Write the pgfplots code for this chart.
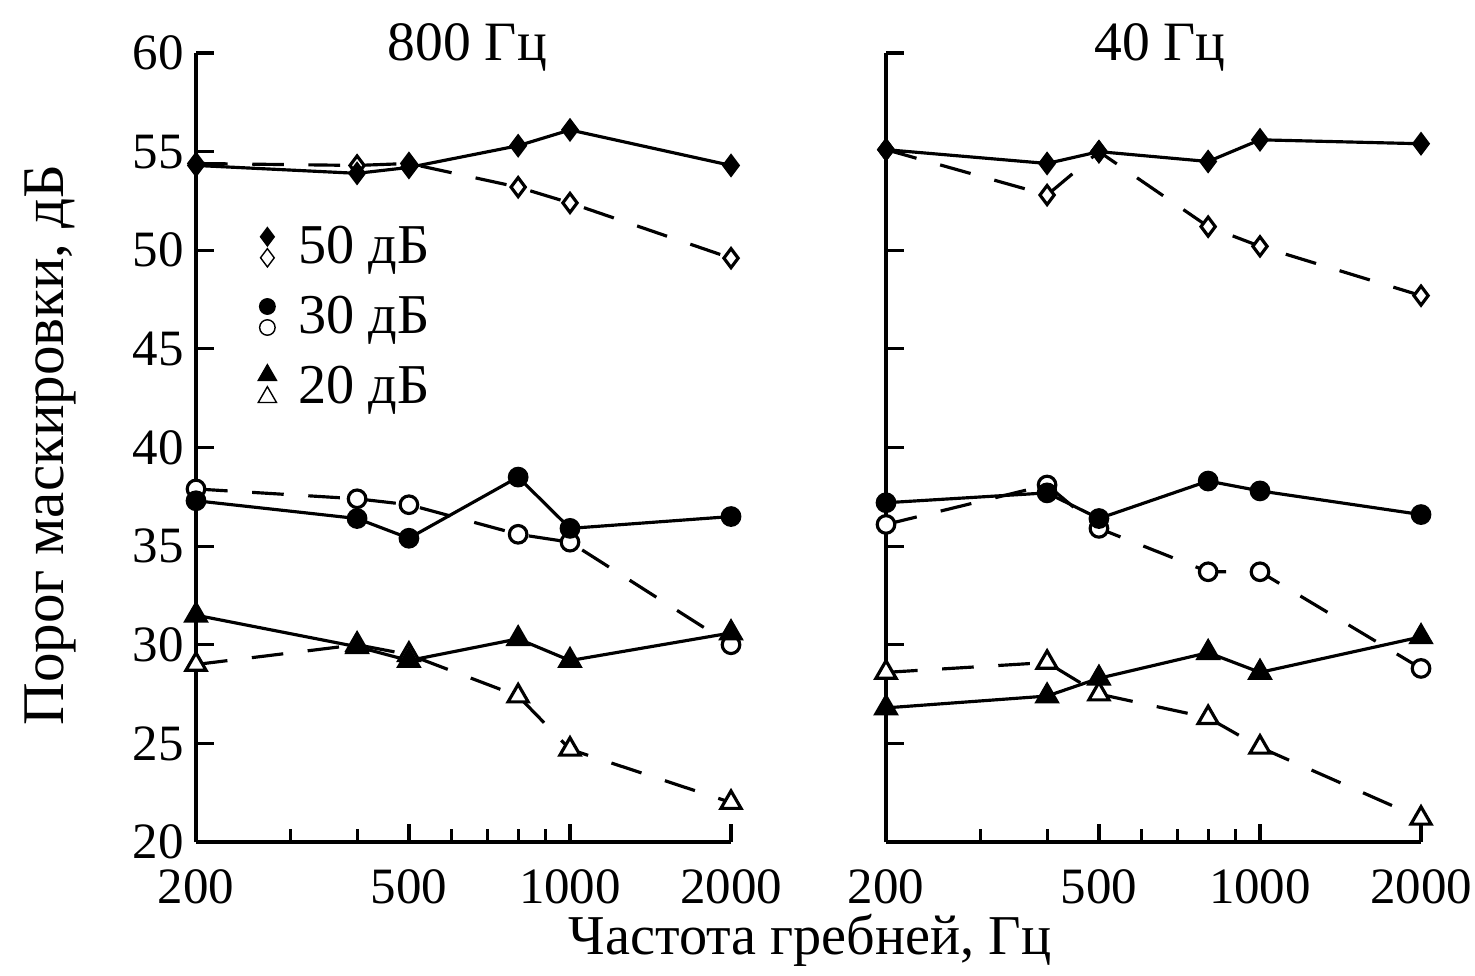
\documentclass[border=0pt]{standalone}
\usepackage{fontspec}
\setmainfont{Liberation Serif}
\usepackage{pgfplots}
\pgfplotsset{compat=1.18}

\pgfplotsset{
  sl/.style={black, line width=0.9pt, solid},
  dl/.style={black, line width=0.9pt, dash pattern=on 9pt off 7pt},
  fdm/.style={mark=diamond*, mark size=2.7pt, mark options={solid, fill=black}},
  odm/.style={mark=diamond*, mark size=2.7pt, mark options={solid, fill=white}},
  fcm/.style={mark=*, mark size=2.5pt, mark options={solid, fill=black}},
  ocm/.style={mark=*, mark size=2.5pt, mark options={solid, fill=white}},
  ftm/.style={mark=triangle*, mark size=3.3pt, mark options={solid, fill=black}},
  otm/.style={mark=triangle*, mark size=3.3pt, mark options={solid, fill=white}},
}

\begin{document}
\begin{tikzpicture}
\path[use as bounding box] (-1.96cm,-1.33cm) rectangle (12.79cm,8.42cm);

% 800 Hz
\begin{axis}[
  xmode=log, scale only axis, width=5.35cm, height=7.89cm,
  xmin=200, xmax=2000, ymin=20, ymax=60,
  axis lines=left, axis line style={-, line width=1pt},
  tick align=inside, major tick length=0.18cm, minor tick length=0.13cm,
  tick style={line width=0.9pt, black},
  xtick={200,500,1000,2000}, xticklabels={200,500,1000,2000},
  minor xtick={300,400,600,700,800,900},
  ytick={20,25,...,60},
  tick label style={font=\fontsize{14.5}{17}\selectfont},
  xticklabel style={yshift=-0.15cm},
  /pgf/number format/assume math mode=true,
  clip=false,
  title={800 Гц}, title style={at={(0.507,0.98)}, anchor=center, font=\fontsize{15.8}{18}\selectfont},
  legend style={at={(0.115,0.79)}, anchor=north west, draw=none, fill=none,
    inner sep=0pt, row sep=0.13cm, font=\fontsize{16}{19}\selectfont},
  legend cell align=left,
]
  \addlegendimage{legend image code/.code={
    \path (0.02cm,0cm) (0.33cm,0cm);
    \draw[black, fill=black] plot[mark=diamond*, mark size=2.6pt] coordinates {(0.1cm,0.11cm)};
    \draw[black, fill=white] plot[mark=diamond*, mark size=2.6pt, mark options={fill=white}] coordinates {(0.1cm,-0.1cm)};}}
  \addlegendentry{50 дБ}
  \addlegendimage{legend image code/.code={
    \path (0.02cm,0cm) (0.33cm,0cm);
    \draw[black, fill=black] plot[mark=*, mark size=2.2pt] coordinates {(0.1cm,0.11cm)};
    \draw[black, fill=white] plot[mark=*, mark size=2.2pt, mark options={fill=white}] coordinates {(0.1cm,-0.1cm)};}}
  \addlegendentry{30 дБ}
  \addlegendimage{legend image code/.code={
    \path (0.02cm,0cm) (0.33cm,0cm);
    \draw[black, fill=black] plot[mark=triangle*, mark size=3pt] coordinates {(0.1cm,0.12cm)};
    \draw[black, fill=white] plot[mark=triangle*, mark size=3pt, mark options={fill=white}] coordinates {(0.1cm,-0.1cm)};}}
  \addlegendentry{20 дБ}

  \addplot[dl, odm] coordinates {(200,54.4)(400,54.3)(500,54.4)(800,53.2)(1000,52.4)(2000,49.6)};
  \addplot[sl, fdm] coordinates {(200,54.3)(400,53.9)(500,54.2)(800,55.3)(1000,56.1)(2000,54.3)};
  \addplot[dl, ocm] coordinates {(200,37.9)(400,37.4)(500,37.1)(800,35.6)(1000,35.2)(2000,30.0)};
  \addplot[sl, fcm] coordinates {(200,37.3)(400,36.4)(500,35.4)(800,38.5)(1000,35.9)(2000,36.5)};
  \addplot[dl, otm] coordinates {(200,29.0)(400,30.0)(500,29.5)(800,27.4)(1000,24.7)(2000,22.0)};
  \addplot[sl, ftm] coordinates {(200,31.5)(400,29.9)(500,29.2)(800,30.3)(1000,29.2)(2000,30.6)};
\end{axis}

% 40 Hz
\begin{axis}[at={(6.9cm,0cm)},
  xmode=log, scale only axis, width=5.35cm, height=7.89cm,
  xmin=200, xmax=2000, ymin=20, ymax=60,
  axis lines=left, axis line style={-, line width=1pt},
  tick align=inside, major tick length=0.18cm, minor tick length=0.13cm,
  tick style={line width=0.9pt, black},
  xtick={200,500,1000,2000}, xticklabels={200,500,1000,2000},
  minor xtick={300,400,600,700,800,900},
  ytick={20,25,...,60}, yticklabels={},
  tick label style={font=\fontsize{14.5}{17}\selectfont},
  xticklabel style={yshift=-0.15cm},
  clip=false,
  title={40 Гц}, title style={at={(0.512,0.98)}, anchor=center, font=\fontsize{15.8}{18}\selectfont},
]
  \addplot[dl, odm] coordinates {(200,55.1)(400,52.8)(500,55.0)(800,51.2)(1000,50.2)(2000,47.7)};
  \addplot[sl, fdm] coordinates {(200,55.1)(400,54.4)(500,55.0)(800,54.5)(1000,55.6)(2000,55.4)};
  \addplot[dl, ocm] coordinates {(200,36.1)(400,38.1)(500,35.9)(800,33.7)(1000,33.7)(2000,28.8)};
  \addplot[sl, fcm] coordinates {(200,37.2)(400,37.7)(500,36.4)(800,38.3)(1000,37.8)(2000,36.6)};
  \addplot[dl, otm] coordinates {(200,28.6)(400,29.1)(500,27.5)(800,26.3)(1000,24.8)(2000,21.2)};
  \addplot[sl, ftm] coordinates {(200,26.8)(400,27.4)(500,28.3)(800,29.6)(1000,28.6)(2000,30.4)};
\end{axis}

\node[font=\fontsize{16}{19}\selectfont] at (6.14cm,-0.98cm) {Частота гребней, Гц};
\node[rotate=90, font=\fontsize{16.8}{19}\selectfont] at (-1.46cm,3.97cm) {Порог маскировки, дБ};
\end{tikzpicture}
\end{document}
